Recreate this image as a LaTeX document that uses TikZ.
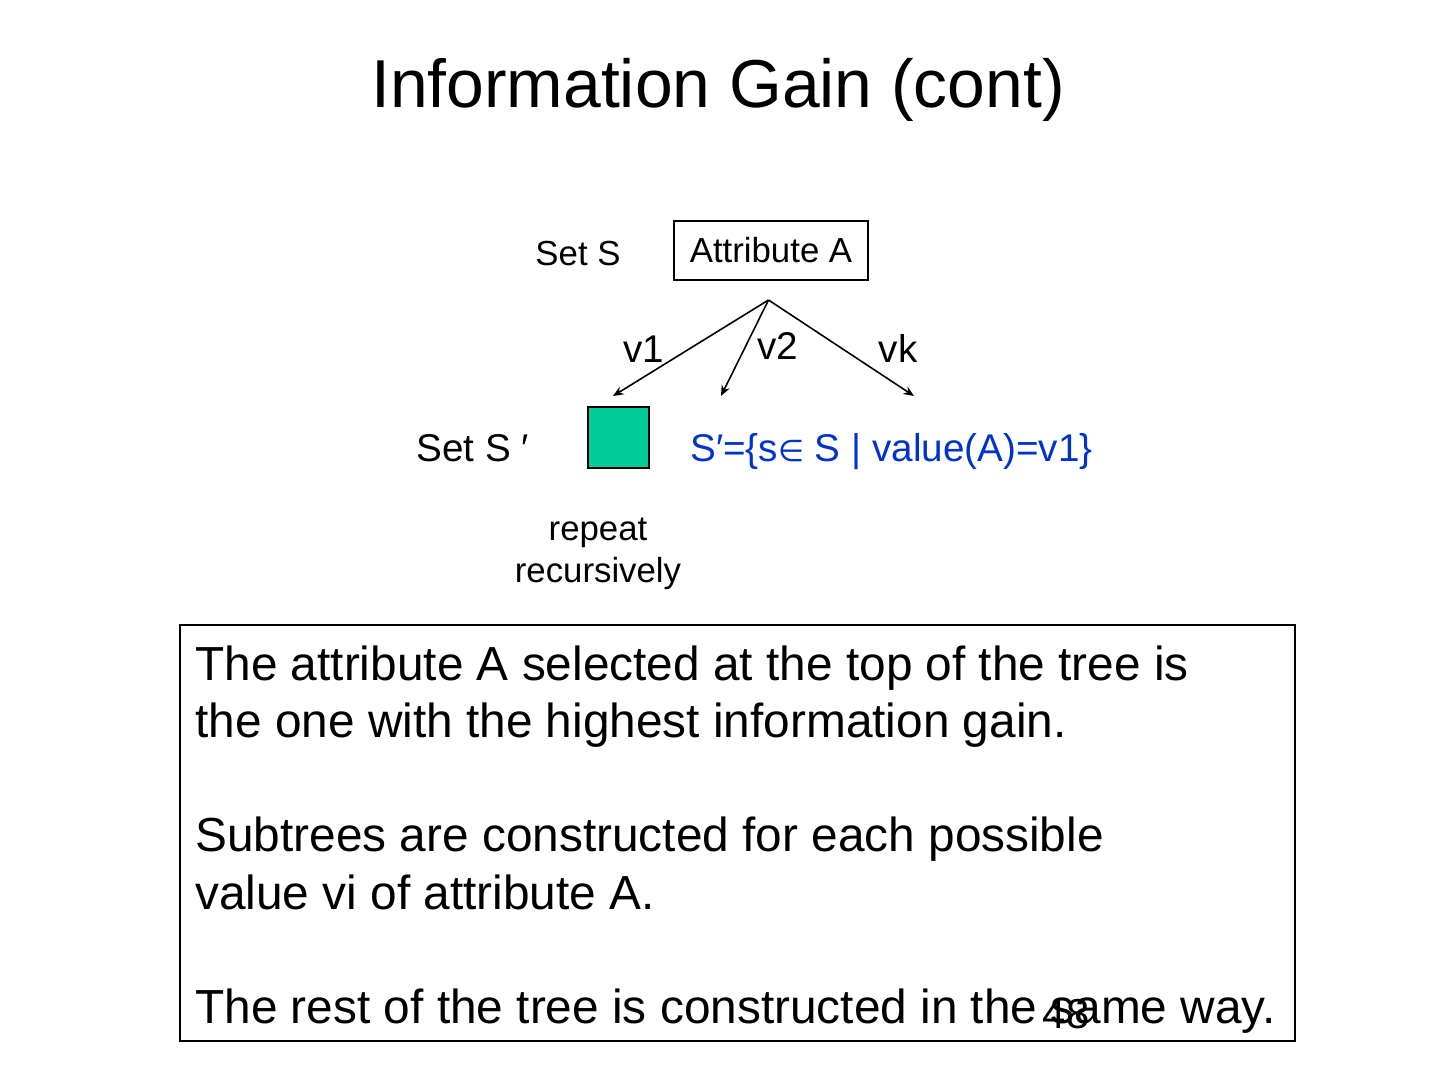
\documentclass[tikz,border=0pt]{standalone}
\usepackage{fontspec}
\setmainfont{Liberation Sans}
\newfontfamily\dejavu{DejaVu Sans}
\usetikzlibrary{arrows.meta, positioning}
\definecolor{setblue}{RGB}{0,51,204}
\definecolor{subsetgreen}{RGB}{0,204,153}
\tikzset{
    title_text/.style={
        font=\fontsize{38.6}{46}\selectfont, inner sep=0pt
    },
    lbl_small/.style={
        font=\fontsize{19.8}{23.6}\selectfont, inner sep=0pt
    },
    lbl_value/.style={
        font=\fontsize{22}{26}\selectfont, inner sep=0pt
    },
    box_attr/.style={
        rectangle, draw=black, line width=0.85pt,
        minimum width=3.88cm, minimum height=1.18cm,
        inner sep=0pt, font=\fontsize{19.8}{24}\selectfont
    },
    box_subset/.style={
        rectangle, draw=black, line width=0.85pt, fill=subsetgreen,
        minimum width=1.22cm, minimum height=1.22cm, inner sep=0pt
    },
    box_summary/.style={
        rectangle, draw=black, line width=0.85pt,
        minimum width=22.3cm, minimum height=8.32cm, inner sep=0pt
    },
    summary_text/.style={
        font=\fontsize{27.2}{32.6}\selectfont, align=left, inner sep=0pt
    },
    branch_arrow/.style={
        -{Stealth[length=6pt, width=5pt]}, line width=0.9pt
    }
}

\begin{document}
\begin{tikzpicture}[x=0.02cm, y=-0.02cm]
    \useasboundingbox (0,0) rectangle (1440,1080);

    % --- Title ---
    \node[title_text, anchor=base] (title) at (718, 107) {Information Gain (cont)};

    % --- Root: Attribute A ---
    \node[lbl_small, anchor=base] (setS) at (578, 265) {Set S};
    \node[box_attr] (attr) at (771, 250.5) {Attribute A};

    % --- Branches ---
    \coordinate (split) at (768.5, 300);
    \coordinate (tip_v1) at (613, 396);
    \coordinate (tip_v2) at (721, 396);
    \coordinate (tip_vk) at (914, 396);

    \draw[branch_arrow] (split) -- (tip_v1);
    \draw[branch_arrow] (split) -- (tip_v2);
    \draw[branch_arrow] (split) -- (tip_vk);

    \node[lbl_value, anchor=base] (lbl_v1) at (644, 362) {v1};
    \node[lbl_value, anchor=base] (lbl_v2) at (778, 359) {v2};
    \node[lbl_value, anchor=base] (lbl_vk) at (898, 362) {vk};

    % --- Subset S' ---
    \node[lbl_value, anchor=base west] (setSprime) at (416, 461) {Set S ′};
    \node[box_subset] (subset) at (618.5, 437.5) {};
    \node[lbl_value, anchor=base west, text=setblue] (subsetdef) at (690, 461)
        {S′=\{s{\dejavu\fontsize{17}{20}\selectfont ∈} S | value(A)=v1\}};

    \node[lbl_small, align=center] (recurse) at (598, 554) {repeat\\recursively};

    % --- Summary ---
    \node[box_summary] (summary) at (737.5, 833) {};
    \node[summary_text, anchor=north west] (summarytext) at (195, 645) {
        The attribute A selected at the top of the tree is\\
        the one with the highest information gain.\\[\baselineskip]
        Subtrees are constructed for each possible\\
        value vi of attribute A.\\[\baselineskip]
        The rest of the tree is constructed in the same way.
    };

    \node[font=\fontsize{23.8}{28}\selectfont, inner sep=0pt] (pagenum) at (1066, 1014) {48};

\end{tikzpicture}
\end{document}
